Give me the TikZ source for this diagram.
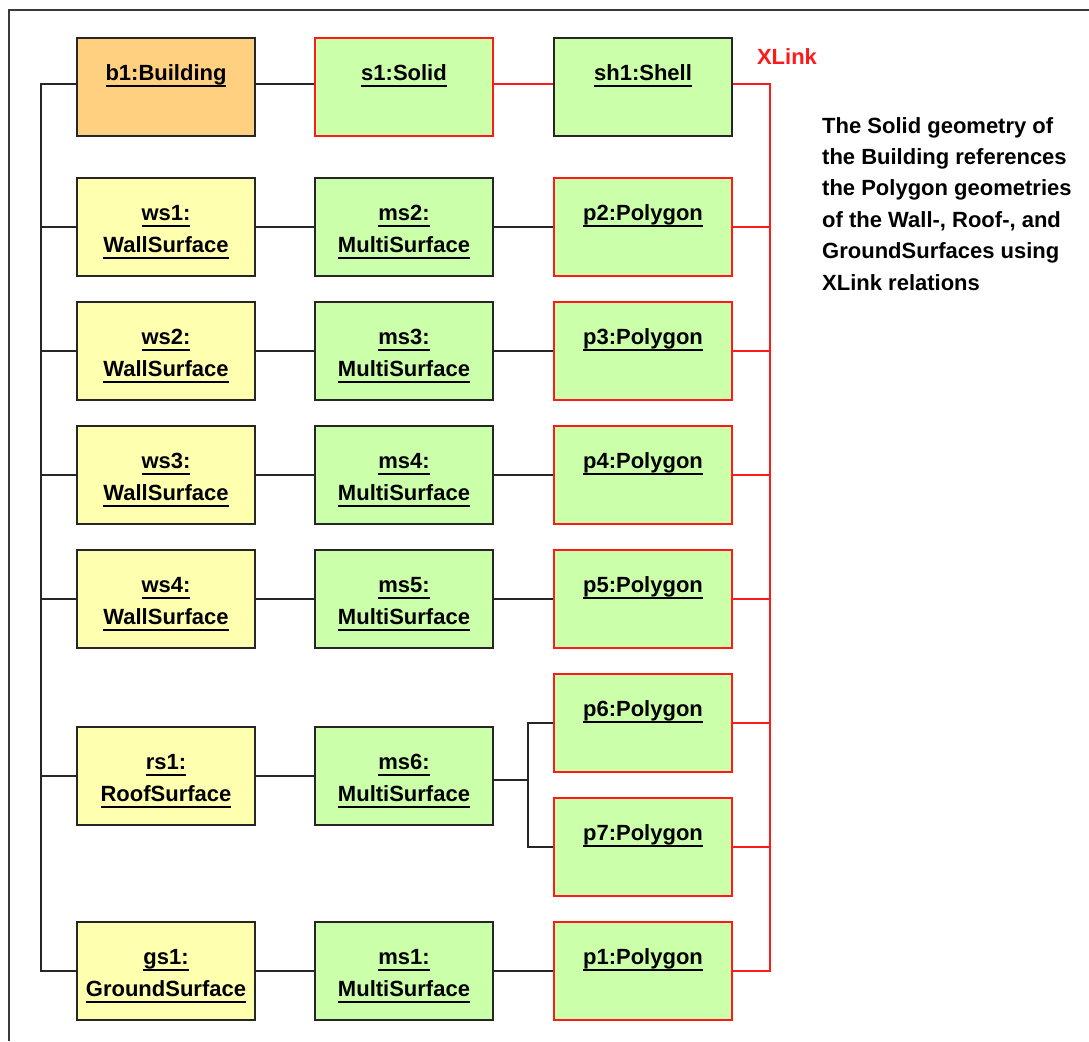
\documentclass[tikz,border=0pt]{standalone}
\usepackage{fontspec}
\setmainfont{Liberation Sans}
\definecolor{bldfill}{HTML}{FFD080}
\definecolor{semfill}{HTML}{FFFFB0}
\definecolor{geofill}{HTML}{CCFFAA}
\definecolor{linkred}{HTML}{FF1A1A}
\definecolor{framegray}{HTML}{3A3A3A}
\newcommand\ulbox[1]{\setbox0\hbox{#1}\rlap{\rule[-6.5pt]{\wd0}{1.6pt}}\box0}
\tikzset{
 obj/.style={draw=black!85, line width=1.5pt, minimum width=178pt, minimum height=98pt, inner sep=0pt},
 bld/.style={obj, fill=bldfill},
 sem/.style={obj, fill=semfill},
 geo/.style={obj, fill=geofill},
 georef/.style={geo, draw=linkred},
 txt/.style={anchor=base, inner sep=0pt, font=\fontsize{22}{26}\selectfont\bfseries},
 conn/.style={line width=1.5pt, draw=black!85},
 link/.style={line width=1.5pt, draw=linkred},
}
\newcommand\objone[4]{%
 \node[#2] (#1) at (#3) {};
 \node[txt] (#1t) at ([yshift=-43pt]#1.north) {\ulbox{#4}};}
\newcommand\objtwo[5]{%
 \node[#2] (#1) at (#3) {};
 \node[txt] (#1a) at ([yshift=-43pt]#1.north) {\ulbox{#4}};
 \node[txt] (#1b) at ([yshift=-75pt]#1.north) {\ulbox{#5}};}
\begin{document}
\begin{tikzpicture}[x=1pt,y=-1pt]
\useasboundingbox (0,0) rectangle (1089,1041);
% frame
\coordinate (fr1) at (9,1041);
\coordinate (fr2) at (9,10);
\coordinate (fr3) at (1089,10);
\draw[line width=1.5pt, framegray] (fr1) -- (fr2) -- (fr3);
% row 1
\objone{b1}{bld}{166,87}{b1:Building}
\objone{s1}{geo, draw=linkred}{404,87}{s1:Solid}
\objone{sh1}{geo}{643,87}{sh1:Shell}
% rows
\objtwo{ws1}{sem}{166,227}{ws1:}{WallSurface}
\objtwo{ms2}{geo}{404,227}{ms2:}{MultiSurface}
\objone{p2}{georef}{643,227}{p2:Polygon}
\objtwo{ws2}{sem}{166,351}{ws2:}{WallSurface}
\objtwo{ms3}{geo}{404,351}{ms3:}{MultiSurface}
\objone{p3}{georef}{643,351}{p3:Polygon}
\objtwo{ws3}{sem}{166,475}{ws3:}{WallSurface}
\objtwo{ms4}{geo}{404,475}{ms4:}{MultiSurface}
\objone{p4}{georef}{643,475}{p4:Polygon}
\objtwo{ws4}{sem}{166,599}{ws4:}{WallSurface}
\objtwo{ms5}{geo}{404,599}{ms5:}{MultiSurface}
\objone{p5}{georef}{643,599}{p5:Polygon}
\objone{p6}{georef}{643,723}{p6:Polygon}
\objtwo{rs1}{sem}{166,776}{rs1:}{RoofSurface}
\objtwo{ms6}{geo}{404,776}{ms6:}{MultiSurface}
\objone{p7}{georef}{643,847}{p7:Polygon}
\objtwo{gs1}{sem}{166,971}{gs1:}{GroundSurface}
\objtwo{ms1}{geo}{404,971}{ms1:}{MultiSurface}
\objone{p1}{georef}{643,971}{p1:Polygon}
% bus coordinates
\coordinate (bus) at (41,0);
\coordinate (rbus) at (770,0);
\coordinate (br) at (528,0);
% left bus
\draw[conn] ([yshift=3pt]b1.west) -- ([yshift=3pt]b1.west -| bus) -- (gs1.west -| bus) -- (gs1.west);
\foreach \n in {ws1,ws2,ws3,ws4,rs1}{\draw[conn] (\n.west) -- (\n.west -| bus);}
% black connectors
\draw[conn] ([yshift=3pt]b1.east) -- ([yshift=3pt]s1.west);
\draw[conn] (ws1) -- (ms2);
\draw[conn] (ms2) -- (p2);
\draw[conn] (ws2) -- (ms3);
\draw[conn] (ms3) -- (p3);
\draw[conn] (ws3) -- (ms4);
\draw[conn] (ms4) -- (p4);
\draw[conn] (ws4) -- (ms5);
\draw[conn] (ms5) -- (p5);
\draw[conn] (rs1) -- (ms6);
\draw[conn] (gs1) -- (ms1);
\draw[conn] (ms1) -- (p1);
\draw[conn] ([yshift=-4pt]ms6.east) -- ([yshift=-4pt]ms6.east -| br);
\draw[conn] (p6.west) -- (p6.west -| br) -- (p7.west -| br) -- (p7.west);
% red links
\draw[link] ([yshift=3pt]s1.east) -- ([yshift=3pt]sh1.west);
\draw[link] ([yshift=3pt]sh1.east) -- ([yshift=3pt]sh1.east -| rbus) -- (p1.east -| rbus) -- (p1.east);
\foreach \n in {p2,p3,p4,p5,p6,p7}{\draw[link] (\n.east) -- (\n.east -| rbus);}
% labels
\node[txt, text=linkred] (xl) at (787,65) {XLink};
\node[anchor=north west, inner sep=0pt, align=left, font=\fontsize{22}{31.4}\selectfont\bfseries] (note) at (822,117)
 {The Solid geometry of\\the Building references\\the Polygon geometries\\of the Wall-, Roof-, and\\GroundSurfaces using\\XLink relations};
\end{tikzpicture}
\end{document}
